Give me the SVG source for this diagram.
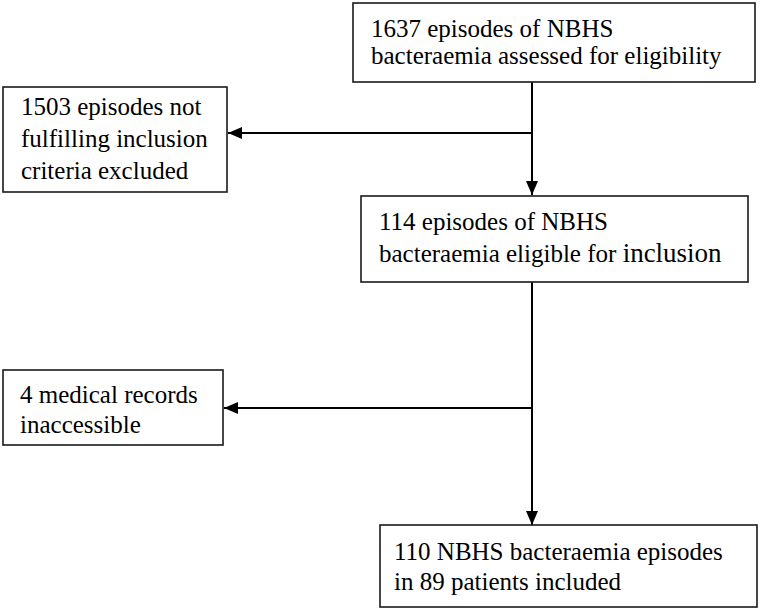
<svg xmlns="http://www.w3.org/2000/svg" width="760" height="611" viewBox="0 0 760 611">
<defs>
<marker id="ah" viewBox="0 0 14 12" refX="14" refY="6" markerWidth="14" markerHeight="12" markerUnits="userSpaceOnUse" orient="auto">
<path d="M0,0 L14,6 L0,12 Z" fill="#000"/>
</marker>
</defs>
<style>
.box{fill:#fff;stroke:#1a1a1a;stroke-width:1.6}
.t{font-family:'Liberation Serif','Times New Roman',serif;font-size:25px;fill:#000}
.c{fill:none;stroke:#000;stroke-width:2}
</style>
<rect width="760" height="611" fill="#fff"/>
<g id="connectors">
<line class="c" x1="532" y1="82" x2="532" y2="195" marker-end="url(#ah)"/>
<line class="c" x1="532" y1="133" x2="228" y2="133" marker-end="url(#ah)"/>
<line class="c" x1="532" y1="282" x2="532" y2="525" marker-end="url(#ah)"/>
<line class="c" x1="532" y1="408" x2="224" y2="408" marker-end="url(#ah)"/>
</g>
<g id="n1">
<rect class="box" x="353" y="3" width="402" height="79"/>
<text class="t" x="371" y="37">1637 episodes of NBHS</text>
<text class="t" x="371" y="64">bacteraemia assessed for eligibility</text>
</g>
<g id="n2">
<rect class="box" x="3" y="87" width="224" height="105"/>
<text class="t" x="21" y="115">1503 episodes not</text>
<text class="t" x="21" y="147">fulfilling inclusion</text>
<text class="t" x="21" y="179">criteria excluded</text>
</g>
<g id="n3">
<rect class="box" x="361" y="196" width="387" height="86"/>
<text class="t" x="379" y="230">114 episodes of NBHS</text>
<text class="t" x="379" y="262">bacteraemia eligible for <tspan font-size="27">inclusion</tspan></text>
</g>
<g id="n4">
<rect class="box" x="3" y="370" width="220" height="75"/>
<text class="t" x="20" y="403">4 medical records</text>
<text class="t" x="20" y="433">inaccessible</text>
</g>
<g id="n5">
<rect class="box" x="380" y="525" width="377" height="82"/>
<text class="t" x="394" y="560">110 NBHS bacteraemia episodes</text>
<text class="t" x="394" y="590">in 89 patients included</text>
</g>
</svg>
